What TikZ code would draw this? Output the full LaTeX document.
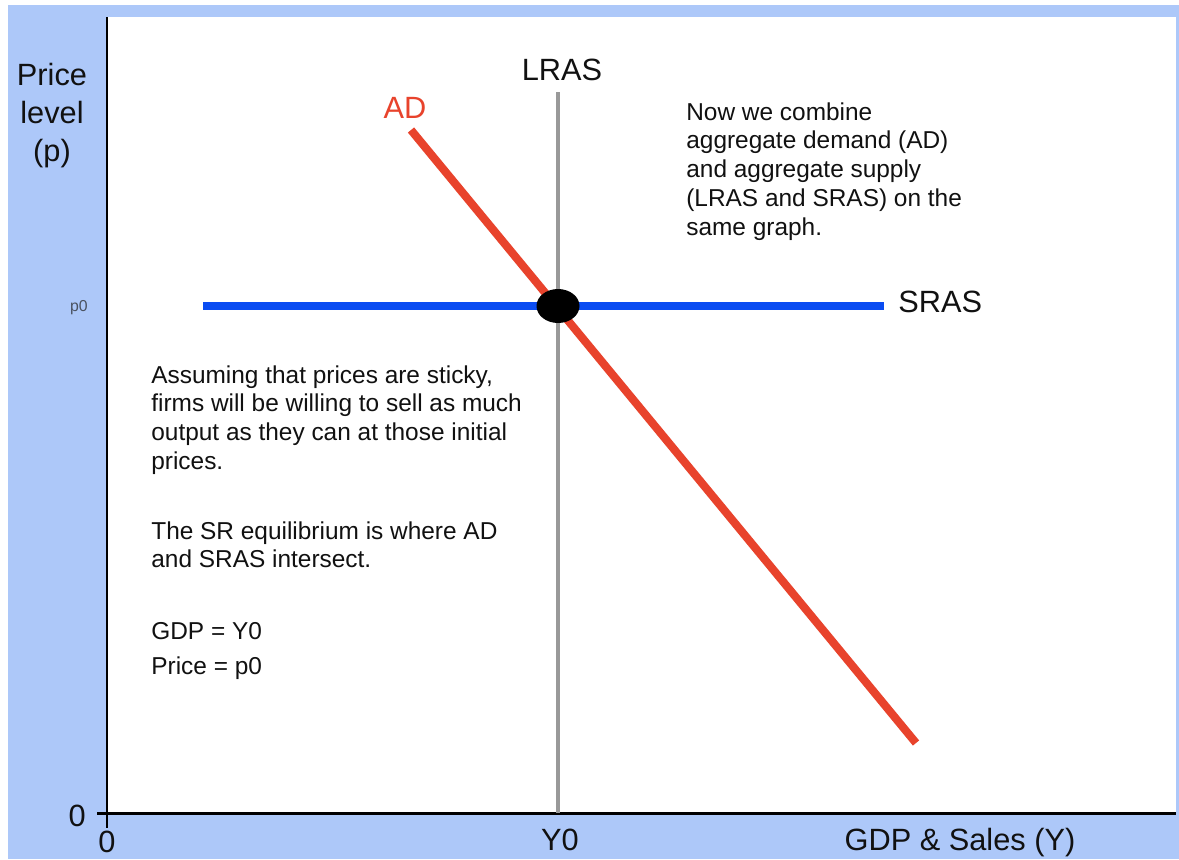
\documentclass[tikz,border=0pt]{standalone}
\usepackage{xcolor}
\usepackage{fontspec}
\setmainfont{Liberation Sans}
\usepackage{tikz}
\usetikzlibrary{shapes.geometric}
\definecolor{ink}{HTML}{111111}
\definecolor{subink}{HTML}{4A5260}
\definecolor{backblue}{HTML}{ADC8F9}
\definecolor{adred}{HTML}{E8432C}
\definecolor{srasblue}{HTML}{0A4CF2}
\definecolor{lrasgrey}{HTML}{999999}
\tikzset{
  axis/.style={line width=1.7pt, draw=black},
  adline/.style={line width=4.6pt, draw=adred},
  srasline/.style={line width=4.2pt, draw=srasblue},
  lrasline/.style={line width=1.8pt, draw=lrasgrey},
  biglabel/.style={font=\fontsize{17.5}{21.5}\selectfont, text=ink, inner sep=0pt},
  note/.style={font=\fontsize{13.9}{16.4}\selectfont, text=ink, align=left, inner sep=0pt},
  eqdot/.style={ellipse, fill=black, inner sep=0pt, minimum width=0.86cm, minimum height=0.68cm}
}

\begin{document}
\begin{tikzpicture}[x=0.02cm,y=-0.02cm]
  % frame: white edge, blue page, white plot area
  \fill[white] (0,0) rectangle (1179,859);
  \fill[backblue] (8,5) rectangle (1179,859);
  \fill[white] (108,17) rectangle (1176,813);
  \useasboundingbox (0,0) rectangle (1179,859);

  % axes
  \coordinate (ytop)   at (107,17);
  \coordinate (ybot)   at (107,828);
  \coordinate (xleft)  at (97,813);
  \coordinate (xright) at (1176,813);
  \draw[axis] (ytop) -- (ybot);
  \draw[axis] (xleft) -- (xright);

  % curves
  \coordinate (lrastop) at (558,92);
  \coordinate (lrasbot) at (558,813);
  \coordinate (srasl)   at (203,306);
  \coordinate (srasr)   at (884,306);
  \coordinate (adtop)   at (411,130);
  \coordinate (adbot)   at (916,743);
  \draw[lrasline] (lrastop) -- (lrasbot);
  \draw[srasline] (srasl) -- (srasr);
  \draw[adline]   (adtop) -- (adbot);
  \node[eqdot] (eq) at (558,306) {};

  % labels
  \node[biglabel, anchor=north, align=center] (ylab) at (52,63) {Price\\level\\(p)};
  \node[biglabel, anchor=base] (lraslab) at (562,80) {LRAS};
  \node[biglabel, anchor=base, text=adred] (adlab) at (405,118) {AD};
  \node[biglabel, anchor=base west] (sraslab) at (898,312) {SRAS};
  \node[biglabel, anchor=base] (y0lab) at (560,850) {Y0};
  \node[biglabel, anchor=base] (xlab) at (960,850) {GDP \& Sales (Y)};
  \node[biglabel, anchor=base east] (zeroy) at (86,826) {0};
  \node[biglabel, anchor=base] (zerox) at (107,852) {0};
  \node[font=\fontsize{9}{10}\selectfont, text=subink, inner sep=0pt, anchor=base east] (p0lab) at (88,311) {p0};

  % notes
  \node[note, anchor=north west] (combine) at (686,102)
    {Now we combine\\aggregate demand (AD)\\and aggregate supply\\(LRAS and SRAS) on the\\same graph.};
  \node[note, anchor=north west] (sticky) at (151,365)
    {Assuming that prices are sticky,\\firms will be willing to sell as much\\output as they can at those initial\\prices.};
  \node[note, anchor=north west] (srnote) at (151,521)
    {The SR equilibrium is where AD\\and SRAS intersect.};
  \node[note, anchor=base west] (gdpnote) at (151,639) {GDP = Y0};
  \node[note, anchor=base west] (pricenote) at (151,674) {Price = p0};
\end{tikzpicture}
\end{document}
